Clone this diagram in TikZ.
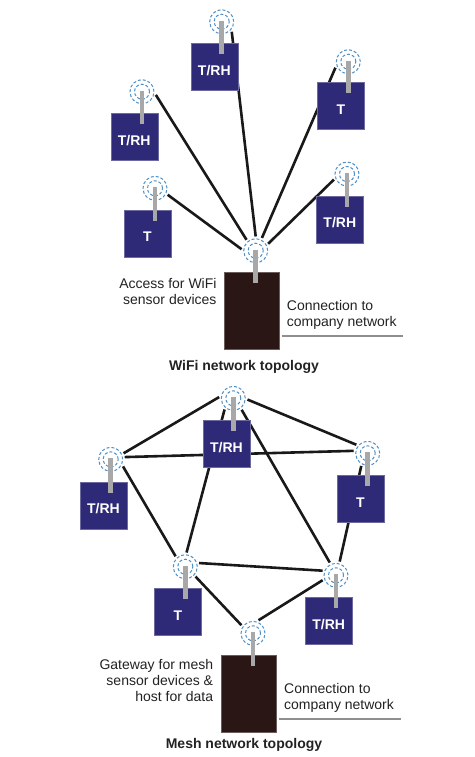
\documentclass[tikz,border=0pt]{standalone}
\usepackage{fontspec}
\setmainfont{Liberation Sans}
\usetikzlibrary{backgrounds}
\definecolor{sensorblue}{HTML}{2E2A78}
\definecolor{hubbrown}{HTML}{2A1614}
\definecolor{mastgray}{HTML}{A8A8A8}
\definecolor{haloblue}{HTML}{4F8FC4}
\definecolor{textgray}{HTML}{222222}
\begin{document}
\begin{tikzpicture}[
    x=1pt, y=-1pt,
    every node/.style={font=\fontsize{14}{16}\selectfont, text=textgray, inner sep=0pt},
    sensor/.style={rectangle, fill=sensorblue, draw=sensorblue!70, line width=0.4pt, minimum size=47pt, text height=17pt, text depth=0pt},
    hub/.style={rectangle, fill=hubbrown, draw=hubbrown!70, line width=0.4pt, minimum width=55pt, minimum height=77pt},
    halo/.style={circle, minimum size=28pt},
    ring/.style={haloblue, line width=1pt, densely dashed},
    mast/.style={mastgray, line width=4.5pt},
    link/.style={line width=2.6pt, black!90},
    uplink/.style={mastgray!85!black, line width=2.2pt},
    note/.style={align=right, anchor=base east},
    conn/.style={align=left, anchor=base west},
    caption/.style={font=\fontsize{14}{16}\selectfont\bfseries, anchor=base}
]
    \useasboundingbox (0,0) rectangle (474,757);
    % sensors: name / halo x / halo y / box x / box y / mast end / text
    \foreach \name/\hx/\hy/\bx/\by/\mastend/\txt in {
        wa/221.7/21.7/214.3/66.7/54/T\slash RH,
        wb/142/91.7/134.2/136.8/124/T\slash RH,
        wc/348.3/61.7/340.8/106.2/93.3/T,
        wd/347/174/339.8/219.2/206.7/T\slash RH,
        we/155/188.3/147.3/233.3/220.7/T,
        ma/233.3/398.3/226.5/443.5/430.7/T\slash RH,
        mb/110.7/459.3/103.5/505.2/492.7/T\slash RH,
        mc/367.7/453.3/360.5/498.5/485.7/T,
        md/185.3/566.7/178/611.8/599.3/T,
        me/336/575.3/328.7/620.5/607.7/T\slash RH}
    {
        \node[sensor, text=white, font=\fontsize{14}{16}\selectfont\bfseries] (\name box) at (\bx,\by) {\txt};
        \node[halo] (\name) at (\hx,\hy) {};
        \draw[ring] (\hx,\hy) circle (12pt) (\hx,\hy) circle (7.5pt);
        \draw[mast] (\hx,\hy-1) -- (\hx,\mastend);
    }
    % hubs
    \node[hub] (wifihub) at (251.5,310.7) {};
    \node[halo] (wh) at (255.7,250.7) {};
    \draw[ring] (wh.center) circle (12pt) (wh.center) circle (7.5pt);
    \draw[mast] (255.7,249.7) -- (255.7,282.7);
    \node[hub] (meshhub) at (248.8,693.8) {};
    \node[halo] (mh) at (253,633.3) {};
    \draw[ring] (mh.center) circle (12pt) (mh.center) circle (7.5pt);
    \draw[mast] (253,632.3) -- (253,665.7);
    \begin{scope}[on background layer]
        \draw[link] (wa.-45) -- (wh.90);
        \draw[link] (wb.-13) -- (wh.130);
        \draw[link] (wc.205) -- (wh.64);
        \draw[link] (wd.203) -- (wh.29);
        \draw[link] (we.-27) -- (wh.174);
        \draw[link] (ma.175) -- (mb.25);
        \draw[link] (ma.-5) -- (mc.143);
        \draw[link] (mb.9) -- (mc.170);
        \draw[link] (ma.232) -- (md.85);
        \draw[link] (ma.-54) -- (me.116);
        \draw[link] (mb.-30) -- (md.133);
        \draw[link] (mc.243) -- (me.75);
        \draw[link] (md.15) -- (me.161);
        \draw[link] (md.-44) -- (mh.145);
        \draw[link] (me.200) -- (mh.67);
    \end{scope}
    % texts
    \node[note] (wifinote) at (216.7,304) {Access for WiFi\\sensor devices};
    \node[note] (meshnote) at (213.3,701) {Gateway for mesh\\sensor devices \&\\host for data};
    \node[conn] (wificonn) at (286.7,326.7) {Connection to\\company network};
    \node[conn] (meshconn) at (284,709.3) {Connection to\\company network};
    \coordinate (wifiline) at (281.7,336);
    \coordinate (meshline) at (279.3,719);
    \draw[uplink] (wifiline) -- ++(121,0);
    \draw[uplink] (meshline) -- ++(121.4,0);
    \node[caption] (wifititle) at (244,370) {WiFi network topology};
    \node[caption] (meshtitle) at (244,748.3) {Mesh network topology};
\end{tikzpicture}
\end{document}
